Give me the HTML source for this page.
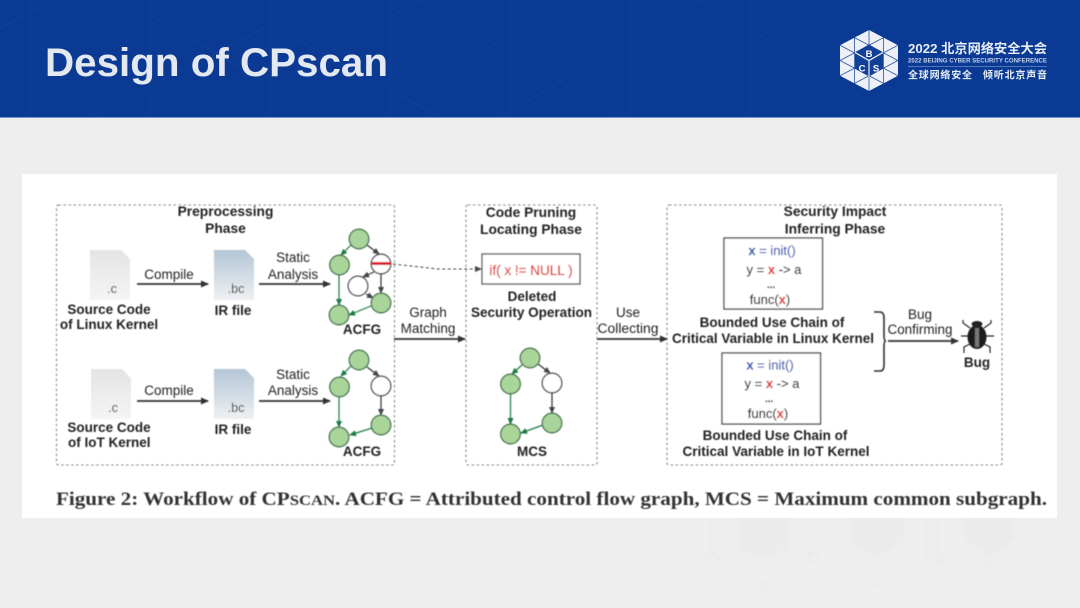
<!DOCTYPE html>
<html><head><meta charset="utf-8"><style>
html,body{margin:0;padding:0;background:#eee}
svg{display:block}
text{font-family:"Liberation Sans",sans-serif}
.s{font-family:"Liberation Serif",serif}
.cjk{font-family:"Liberation Sans","Noto Sans CJK SC",sans-serif}
</style></head><body>
<svg width="1080" height="608" viewBox="0 0 1080 608" xmlns="http://www.w3.org/2000/svg">
<defs>
<marker id="a" markerWidth="8" markerHeight="7" refX="7" refY="3.500" orient="auto" markerUnits="userSpaceOnUse"><path d="M0,0L8,3.500L0,7z" fill="#333"/></marker>
<marker id="g" markerWidth="7" markerHeight="7" refX="6" refY="3" orient="auto" markerUnits="userSpaceOnUse"><path d="M0,0L7,3L0,6z" fill="#1f7a45"/></marker>
<marker id="k" markerWidth="7" markerHeight="7" refX="6" refY="3" orient="auto" markerUnits="userSpaceOnUse"><path d="M0,0L7,3L0,6z" fill="#444"/></marker>
<linearGradient id="fc" x1="0" y1="0" x2="0" y2="1"><stop offset="0" stop-color="#e4e4e4"/><stop offset="1" stop-color="#f5f5f5"/></linearGradient>
<linearGradient id="fb" x1="0" y1="0" x2="0" y2="1"><stop offset="0" stop-color="#b4c6d6"/><stop offset="1" stop-color="#eef1f3"/></linearGradient>
<filter id="b" x="-2%" y="-2%" width="104%" height="104%"><feGaussianBlur stdDeviation="0.45"/></filter>
<filter id="w" x="-5%" y="-5%" width="110%" height="110%"><feGaussianBlur stdDeviation="1.500"/></filter>
<g id="dc"><path d="M0,0H31L40,9V50H0z" fill="url(#fc)"/><text x="22" y="43" font-size="12.500" fill="#333" text-anchor="middle">.c</text></g>
<g id="db"><path d="M0,0H31L40,9V50H0z" fill="url(#fb)"/><text x="22" y="43" font-size="12.500" fill="#333" text-anchor="middle">.bc</text></g>
</defs>

<rect width="1080" height="608" fill="#eeeeee"/>
<rect width="1080" height="117" fill="#0a3a94"/>
<rect y="117" width="1080" height="1" fill="#6f95d8"/>
<g stroke="#14439c" stroke-width="1" fill="none" opacity=".7">
<path d="M30,0V117M150,0V117M270,0V117M390,0V117M510,0V117M630,0V117M750,0V117"/>
<path d="M-60,60L90,-20L270,85L420,0M90,117L270,25L440,117M420,0L620,117M500,117L700,0L820,70"/>
</g>
<text x="45" y="76" font-size="39.500" font-weight="700" fill="#e3e8f1" textLength="343" lengthAdjust="spacingAndGlyphs">Design of CPscan</text>

<!-- logo -->
<g transform="translate(869,60.500)">
<path d="M0,-30.500L29,-15.250V15.250L0,30.500L-29,15.250V-15.250z" fill="#edf0f7"/>
<g stroke="#2a559f" stroke-width=".8" fill="none">
<path d="M14.500,-22.900V22.900M-14.500,-22.900V22.900M-29,0L14.500,22.900M-29,0L14.500,-22.900M29,0L-14.500,22.900M29,0L-14.500,-22.900M0,-30.500V30.500M-29,-15.250L29,15.250M29,-15.250L-29,15.250"/>
</g>
<path d="M0,-16L14,-8V8L0,16L-14,8V-8z" fill="#123f97"/>
<path d="M0,0L-14,-8M0,0L14,-8M0,0V16" stroke="#fff" stroke-width="1.100" fill="none"/>
<text x="0" y="-3.500" font-size="9.500" font-weight="700" fill="#fff" text-anchor="middle">B</text>
<text x="-7" y="11" font-size="9.500" font-weight="700" fill="#fff" text-anchor="middle">C</text>
<text x="7" y="11" font-size="9.500" font-weight="700" fill="#fff" text-anchor="middle">S</text>
</g>
<text x="908" y="53" font-size="13" font-weight="700" fill="#e8edf6" class="cjk" textLength="139" lengthAdjust="spacingAndGlyphs">2022 北京网络安全大会</text>
<text x="908" y="62.500" font-size="6.300" font-weight="700" fill="#c3d0e6" textLength="139" lengthAdjust="spacingAndGlyphs">2022 BEIJING CYBER SECURITY CONFERENCE</text>
<rect x="908" y="66" width="139" height=".7" fill="#6f8fc8"/>
<text x="908" y="78.500" font-size="10" font-weight="700" fill="#e8edf6" class="cjk" textLength="64" lengthAdjust="spacing">全球网络安全</text>
<text x="983" y="78.500" font-size="10" font-weight="700" fill="#e8edf6" class="cjk" textLength="64" lengthAdjust="spacing">倾听北京声音</text>

<!-- watermark -->
<g filter="url(#w)">
<g fill="#ebebeb">
<path d="M740,518H788V548L763,558L740,548z"/><path d="M850,518H905V540L877,558L850,540z"/><path d="M965,518H1015V540L990,556L965,540z"/>
</g>
</g>
<g stroke="#eaeaea" stroke-width="1" fill="none">
<path d="M711,520V553L763,586L813,553V520M826,520V558L877,586L927,558V520M937,520V558L990,586L1040,558V520"/>
<circle cx="711" cy="557" r="5"/><circle cx="813" cy="557" r="5"/><circle cx="761" cy="587" r="5"/><circle cx="940" cy="558" r="5"/><circle cx="990" cy="564" r="4"/>
</g>

<rect x="22" y="174" width="1035" height="344" fill="#fff"/>

<g filter="url(#b)">
<g fill="none" stroke="#888" stroke-width="1.100" stroke-dasharray="2.500 2.500">
<rect x="56.500" y="205" width="338" height="260" rx="2"/>
<rect x="466" y="205" width="131" height="260" rx="2"/>
<rect x="667" y="205" width="335" height="260" rx="2"/>
</g>

<g font-size="13.500" fill="#222" text-anchor="middle">
<g font-weight="700" font-size="13.800">
<text x="225.500" y="216">Preprocessing</text><text x="225.500" y="233">Phase</text>
<text x="531" y="217">Code Pruning</text><text x="531" y="234">Locating Phase</text>
<text x="835" y="216">Security Impact</text><text x="835" y="233.500">Inferring Phase</text>
</g>
<g font-size="13.500">
<text x="169" y="279">Compile</text><text x="169" y="395">Compile</text>
<text x="293" y="262">Static</text><text x="293" y="279">Analysis</text>
<text x="293" y="379">Static</text><text x="293" y="395">Analysis</text>
<text x="428" y="317">Graph</text><text x="428" y="333">Matching</text>
<text x="628" y="317">Use</text><text x="628" y="333" textLength="61" lengthAdjust="spacingAndGlyphs">Collecting</text>
<text x="920" y="319">Bug</text><text x="920" y="334" textLength="65" lengthAdjust="spacingAndGlyphs">Confirming</text>
</g>
<g font-weight="700" font-size="13.500">
<text x="109" y="314">Source Code</text><text x="109" y="329">of Linux Kernel</text>
<text x="109" y="432">Source Code</text><text x="68" y="447" text-anchor="start">of IoT Kernel</text>
<text x="233" y="315">IR file</text><text x="233" y="434">IR file</text>
<text x="362" y="334">ACFG</text><text x="362" y="456">ACFG</text>
<text x="532" y="301">Deleted</text><text x="531.500" y="317" textLength="121" lengthAdjust="spacingAndGlyphs">Security Operation</text>
<text x="532" y="456">MCS</text>
<text x="772" y="327">Bounded Use Chain of</text><text x="773" y="343" textLength="202" lengthAdjust="spacingAndGlyphs">Critical Variable in Linux Kernel</text>
<text x="775" y="440">Bounded Use Chain of</text><text x="776" y="456" textLength="187" lengthAdjust="spacingAndGlyphs">Critical Variable in IoT Kernel</text>
<text x="977" y="367">Bug</text>
</g>
</g>

<use href="#dc" x="90" y="250"/><use href="#db" x="214" y="250"/>
<use href="#dc" x="91" y="369"/><use href="#db" x="214" y="369"/>

<g stroke="#333" stroke-width="1.800" fill="none">
<path d="M137,284H208" marker-end="url(#a)"/>
<path d="M259,284H330" marker-end="url(#a)"/>
<path d="M137,401H208" marker-end="url(#a)"/>
<path d="M259,401H330" marker-end="url(#a)"/>
<path d="M394,339H465" marker-end="url(#a)"/>
<path d="M597,339H667" marker-end="url(#a)"/>
<path d="M888,341H958" marker-end="url(#a)"/>
</g>
<path d="M393,264L438,269H481" fill="none" stroke="#444" stroke-width="1" stroke-dasharray="3 2.500" marker-end="url(#k)"/>

<!-- graph 1 -->
<g fill="none" stroke-width="1.200">
<path d="M351,245L341,255" stroke="#1f7a45" marker-end="url(#g)"/>
<path d="M339,275V305" stroke="#1f7a45" marker-end="url(#g)"/>
<path d="M371,306L349,315" stroke="#1f7a45" marker-end="url(#g)"/>
<path d="M367,245L379,254" stroke="#333" marker-end="url(#k)"/>
<path d="M381,274V293" stroke="#333" marker-end="url(#k)"/>
<path d="M374,272L363,277" stroke="#333" marker-end="url(#k)"/>
<path d="M366,294L373,298" stroke="#333" marker-end="url(#k)"/>
</g>
<g stroke="#44724f" stroke-width="1.300" fill="#a9d49a">
<circle cx="359" cy="239" r="9.800"/><circle cx="339.500" cy="265" r="9.800"/><circle cx="381" cy="303" r="9.800"/><circle cx="339" cy="315" r="9.800"/>
<circle cx="381" cy="264" r="9.800" fill="#fff" stroke="#444"/><circle cx="358" cy="286" r="9.800" fill="#fff" stroke="#444"/>
</g>
<rect x="371" y="262" width="20" height="3" fill="#d8232f"/>

<!-- graph 2 -->
<g fill="none" stroke-width="1.200">
<path d="M351,366L341,376" stroke="#1f7a45" marker-end="url(#g)"/>
<path d="M339,397V427" stroke="#1f7a45" marker-end="url(#g)"/>
<path d="M372,428L350,435" stroke="#1f7a45" marker-end="url(#g)"/>
<path d="M367,367L379,376" stroke="#333" marker-end="url(#k)"/>
<path d="M381,396V415" stroke="#333" marker-end="url(#k)"/>
</g>
<g stroke="#44724f" stroke-width="1.300" fill="#a9d49a">
<circle cx="359" cy="360" r="9.800"/><circle cx="339.500" cy="387" r="9.800"/><circle cx="381" cy="425" r="9.800"/><circle cx="339" cy="437" r="9.800"/>
<circle cx="381" cy="386" r="9.800" fill="#fff" stroke="#444"/>
</g>

<!-- MCS -->
<g fill="none" stroke-width="1.200">
<path d="M522,365L512,374" stroke="#1f7a45" marker-end="url(#g)"/>
<path d="M510.500,394V424" stroke="#1f7a45" marker-end="url(#g)"/>
<path d="M543,425L521,433" stroke="#1f7a45" marker-end="url(#g)"/>
<path d="M538,364L550,373" stroke="#333" marker-end="url(#k)"/>
<path d="M552,393V413" stroke="#333" marker-end="url(#k)"/>
</g>
<g stroke="#44724f" stroke-width="1.300" fill="#a9d49a">
<circle cx="530" cy="358" r="9.800"/><circle cx="510.500" cy="384" r="9.800"/><circle cx="552" cy="423" r="9.800"/><circle cx="510.500" cy="434" r="9.800"/>
<circle cx="552" cy="383" r="9.800" fill="#fff" stroke="#444"/>
</g>

<!-- if box -->
<rect x="482" y="254" width="98" height="30" fill="#fff" stroke="#555" stroke-width="1.300"/>
<text x="531" y="275" font-size="13.500" fill="#e0453f" stroke="#e0453f" stroke-width=".25" text-anchor="middle">if( x != NULL )</text>

<!-- code boxes -->
<rect x="724" y="238" width="98.500" height="71" fill="#fff" stroke="#444" stroke-width="1.300"/>
<rect x="722" y="353" width="98.500" height="71" fill="#fff" stroke="#444" stroke-width="1.300"/>
<g font-size="13" fill="#111" stroke="#111" stroke-width=".15" text-anchor="middle">
<text x="772" y="255"><tspan fill="#3555b0" stroke="#3555b0" font-weight="700">x</tspan><tspan fill="#3555b0" stroke="#3555b0"> = init()</tspan></text>
<text x="774" y="274">y = <tspan fill="#dd3b3b" stroke="#dd3b3b" font-weight="700">x</tspan> -&gt; a</text>
<text x="771" y="288" font-weight="700" font-size="10">...</text>
<text x="770" y="304">func(<tspan fill="#dd3b3b" stroke="#dd3b3b" font-weight="700">x</tspan>)</text>
<text x="770" y="369.500"><tspan fill="#3555b0" stroke="#3555b0" font-weight="700">x</tspan><tspan fill="#3555b0" stroke="#3555b0"> = init()</tspan></text>
<text x="772" y="388">y = <tspan fill="#dd3b3b" stroke="#dd3b3b" font-weight="700">x</tspan> -&gt; a</text>
<text x="769" y="402" font-weight="700" font-size="10">...</text>
<text x="768" y="418">func(<tspan fill="#dd3b3b" stroke="#dd3b3b" font-weight="700">x</tspan>)</text>
</g>

<!-- brace -->
<path d="M874,312H880Q884,312 884,318V336Q884,341 886,341Q884,341 884,346V365Q884,371 880,371H874" fill="none" stroke="#333" stroke-width="1.600"/>

<!-- bug -->
<g stroke="#222" stroke-width="1.200" fill="none">
<path d="M970,328L963,323V320M984,328L991,323V320M961,336H994M970,344L964,347V353M984,344L990,347V353"/>
</g>
<ellipse cx="977" cy="337" rx="9.500" ry="12" fill="#1a1a1a"/>
<ellipse cx="977" cy="324" rx="5.500" ry="3" fill="#222"/>
<rect x="975" y="328" width="4" height="19" fill="#777"/>

<!-- caption -->
<text class="s" x="56" y="505" font-size="19" font-weight="700" fill="#333" textLength="991" lengthAdjust="spacingAndGlyphs">Figure 2: Workflow of CP<tspan font-size="15">SCAN</tspan>. ACFG = Attributed control flow graph, MCS = Maximum common subgraph.</text>
</g>
</svg>
</body></html>
